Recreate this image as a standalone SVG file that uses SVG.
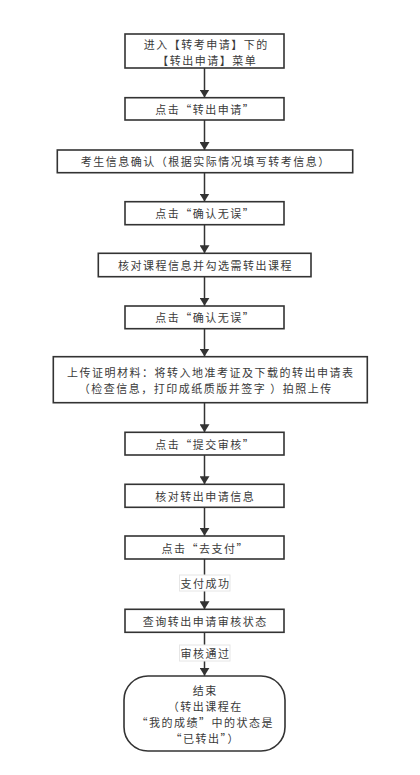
<svg xmlns="http://www.w3.org/2000/svg" width="420" height="775" viewBox="0 0 420 775">
<style>
.n rect{fill:#fff;stroke:#333;stroke-width:1.6}
.t{font-family:"Noto Sans CJK SC","Noto Sans",sans-serif;font-size:11px;letter-spacing:1.5px;fill:#3a3a3a;text-anchor:middle;dominant-baseline:central}
.c line{stroke:#333;stroke-width:1.5;marker-end:url(#ah)}
.lb rect{fill:#fff;stroke:#e6e6e6;stroke-width:1}
</style>
<defs>
<marker id="ah" viewBox="0 0 8 10" refX="8" refY="5" markerWidth="8" markerHeight="10" markerUnits="userSpaceOnUse" orient="auto">
<path d="M0,0 L8,5 L0,10 Z" fill="#333"/>
</marker>
</defs>
<rect width="420" height="775" fill="#fff"/>
<g id="connectors" class="c">
<line x1="204.5" y1="68" x2="204.5" y2="97.5"/>
<line x1="204.5" y1="120" x2="204.5" y2="150"/>
<line x1="204.5" y1="172.7" x2="204.5" y2="201.5"/>
<line x1="204.5" y1="224.7" x2="204.5" y2="253.2"/>
<line x1="204.5" y1="276.7" x2="204.5" y2="305.8"/>
<line x1="204.5" y1="328.7" x2="204.5" y2="356.5"/>
<line x1="204.5" y1="402.7" x2="204.5" y2="432.2"/>
<line x1="204.5" y1="455" x2="204.5" y2="484.2"/>
<line x1="204.5" y1="507.3" x2="204.5" y2="535.8"/>
<line x1="204.5" y1="559" x2="204.5" y2="609.2"/>
<line x1="204.5" y1="632.3" x2="204.5" y2="675.8"/>
</g>
<g id="label1" class="lb"><rect x="179.5" y="575" width="50.5" height="16"/><text class="t" x="205.5" y="583">支付成功</text></g>
<g id="label2" class="lb"><rect x="179.5" y="645" width="50.5" height="16"/><text class="t" x="205.5" y="653">审核通过</text></g>
<g id="n1" class="n"><rect x="125" y="34" width="159" height="34"/><text class="t" y="43.5"><tspan x="206.2">进入【转考申请】下的</tspan><tspan x="207.2" dy="16">【转出申请】菜单</tspan></text></g>
<g id="n2" class="n"><rect x="125" y="97.7" width="159" height="22.3"/><text class="t" x="205.2" y="109">点击“转出申请”</text></g>
<g id="n3" class="n"><rect x="57.3" y="150" width="295.4" height="22.7"/><text class="t" x="205.7" y="161.3">考生信息确认（根据实际情况填写转考信息）</text></g>
<g id="n4" class="n"><rect x="125" y="201.7" width="159" height="23"/><text class="t" x="205.2" y="213.2">点击“确认无误”</text></g>
<g id="n5" class="n"><rect x="98.3" y="253.3" width="212.7" height="23.4"/><text class="t" x="205.4" y="265">核对课程信息并勾选需转出课程</text></g>
<g id="n6" class="n"><rect x="125" y="306" width="159" height="22.7"/><text class="t" x="205.2" y="317.3">点击“确认无误”</text></g>
<g id="n7" class="n"><rect x="53.3" y="356.7" width="314" height="46"/><text class="t" y="372"><tspan x="210.7">上传证明材料：将转入地准考证及下载的转出申请表</tspan><tspan x="205.7" dy="16">（检查信息，打印成纸质版并签字 ）拍照上传</tspan></text></g>
<g id="n8" class="n"><rect x="125" y="432.3" width="159" height="22.7"/><text class="t" x="205.2" y="443.7">点击“提交审核”</text></g>
<g id="n9" class="n"><rect x="125" y="484.3" width="159" height="23"/><text class="t" x="205.2" y="495.8">核对转出申请信息</text></g>
<g id="n10" class="n"><rect x="125" y="536" width="159" height="23"/><text class="t" x="205.2" y="547.5">点击“去支付”</text></g>
<g id="n11" class="n"><rect x="125" y="609.3" width="159" height="23"/><text class="t" x="205.2" y="620.8">查询转出申请审核状态</text></g>
<g id="end" class="n"><rect x="124" y="676" width="161" height="75" rx="24" ry="24"/><text class="t" y="690"><tspan x="205.2">结束</tspan><tspan x="205.2" dy="16">（转出课程在</tspan><tspan x="205.2" dy="16">“我的成绩”中的状态是</tspan><tspan x="205.2" dy="16">“已转出”）</tspan></text></g>
</svg>
